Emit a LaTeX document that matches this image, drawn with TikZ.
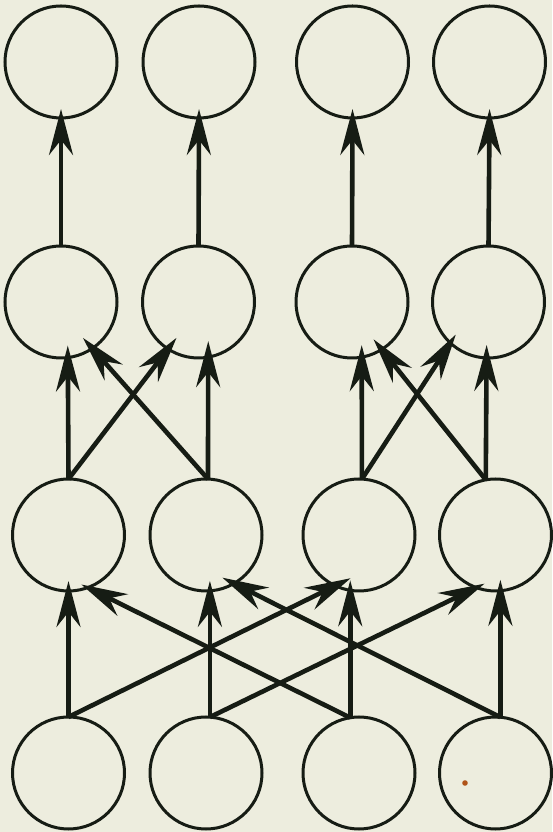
\documentclass[tikz,border=0pt]{standalone}
\usetikzlibrary{arrows.meta}
\definecolor{ink}{RGB}{22,28,20}
\definecolor{paper}{RGB}{237,237,222}
\definecolor{speck}{RGB}{176,84,24}
\begin{document}
\begin{tikzpicture}[x=1pt,y=1pt,
  neuron/.style={circle, draw=ink, line width=3pt, minimum size=112pt, inner sep=0pt, outer sep=0pt},
  conn/.style={draw=ink, line width=4.6pt, -{Stealth[length=46pt,width=24pt,inset=15pt]}}]
\fill[paper] (0,0) rectangle (552,832);
\useasboundingbox (0,0) rectangle (552,832);
% row 1 (top)
\node[neuron] (r1c1) at (61,770) {};
\node[neuron] (r1c2) at (199,770) {};
\node[neuron] (r1c3) at (352.5,770) {};
\node[neuron] (r1c4) at (489.5,770) {};
% row 2
\node[neuron] (r2c1) at (61,530) {};
\node[neuron] (r2c2) at (198.5,530) {};
\node[neuron] (r2c3) at (352,530) {};
\node[neuron] (r2c4) at (488.5,530) {};
% row 3
\node[neuron] (r3c1) at (68.5,297) {};
\node[neuron] (r3c2) at (206,297) {};
\node[neuron] (r3c3) at (359,297) {};
\node[neuron] (r3c4) at (495.5,297) {};
% row 4 (bottom)
\node[neuron] (r4c1) at (68.5,59) {};
\node[neuron] (r4c2) at (206,59) {};
\node[neuron] (r4c3) at (359,59) {};
\node[neuron] (r4c4) at (495.5,59) {};
% speck
\fill[speck] (465,49) circle (2.8pt);
% row 2 -> row 1
\draw[conn, shorten >=-9pt] (r2c1.north) -- (r1c1.south);
\draw[conn, shorten >=-9pt] (r2c2.north) -- (r1c2.south);
\draw[conn, shorten >=-9pt] (r2c3.north) -- (r1c3.south);
\draw[conn, shorten >=-9pt] (r2c4.north) -- (r1c4.south);
% row 3 -> row 2
\draw[conn, shorten >=-12pt] (r3c1.north) -- (r2c1.277);
\draw[conn, shorten >=-14pt] (r3c1.north) -- (r2c2.237);
\draw[conn, shorten >=-14pt] (r3c2.88) -- (r2c1.304);
\draw[conn, shorten >=-16pt] (r3c2.88) -- (r2c2.280);
\draw[conn, shorten >=-12pt] (r3c3.87) -- (r2c3.280);
\draw[conn, shorten >=-10pt] (r3c3.87) -- (r2c4.227);
\draw[conn, shorten >=-13pt] (r3c4.100) -- (r2c3.302);
\draw[conn, shorten >=-13pt] (r3c4.100) -- (r2c4.268);
% row 4 -> row 3
\draw[conn, shorten >=-10pt] (r4c1.north) -- (r3c1.south);
\draw[conn, shorten >=-10pt] (r4c2.86) -- (r3c2.274);
\draw[conn, shorten >=-10pt] (r4c3.99) -- (r3c3.261);
\draw[conn, shorten >=-11pt] (r4c4.85) -- (r3c4.275);
\draw[conn, shorten >=-17pt] (r4c1.north) -- (r3c3.245);
\draw[conn, shorten >=-9pt] (r4c2.86) -- (r3c4.250);
\draw[conn, shorten >=-7pt] (r4c3.99) -- (r3c1.290);
\draw[conn, shorten >=-13pt] (r4c4.85) -- (r3c2.300);
\end{tikzpicture}
\end{document}
